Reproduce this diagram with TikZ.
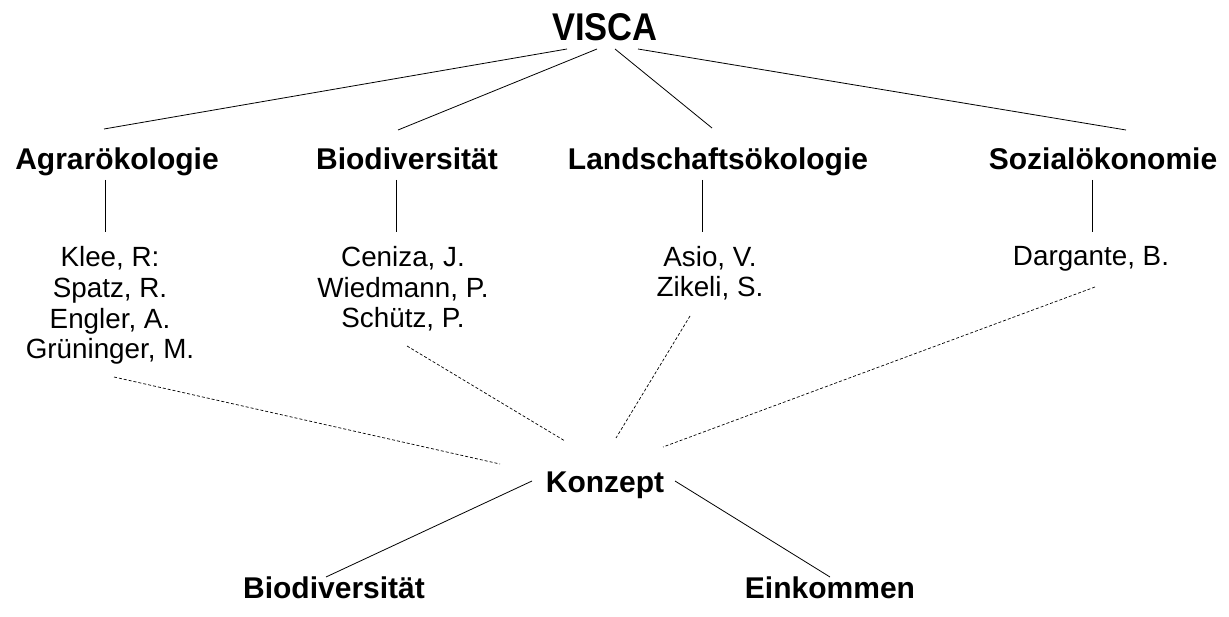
\documentclass[tikz,border=0pt]{standalone}
\usepackage{fontspec}
\setmainfont{Liberation Sans}
\begin{document}
\begin{tikzpicture}[x=1pt,y=-1pt,
  top/.style={font=\bfseries\fontsize{34.5}{40}\selectfont, anchor=base, inner sep=0pt},
  lbl/.style={font=\bfseries\fontsize{30}{32}\selectfont, anchor=base, inner sep=0pt},
  nm/.style={font=\fontsize{27.8}{30.8}\selectfont, anchor=base, inner sep=0pt, align=center},
  ln/.style={line width=0.8pt, black},
  dl/.style={line width=0.7pt, black, dash pattern=on 3pt off 2pt}]
\useasboundingbox (0,0) rectangle (1229,617);
% nodes
\node[top] (visca) at (605,41) {\scalebox{1}[1.12]{VISCA}};
\node[lbl] (agrar) at (117,170) {Agrarökologie};
\node[lbl] (bio) at (407,170) {Biodiversität};
\node[lbl] (land) at (718,170) {Landschaftsökologie};
\node[lbl] (sozial) at (1103,170) {Sozialökonomie};
\node[nm] (nagrar) at (110,359) {Klee, R:\\Spatz, R.\\Engler, A.\\Grüninger, M.};
\node[nm] (nbio) at (403,328) {Ceniza, J.\\Wiedmann, P.\\Schütz, P.};
\node[nm] (nland) at (710,297) {Asio, V.\\Zikeli, S.};
\node[nm] (nsozial) at (1091,266) {Dargante, B.};
\node[lbl] (konzept) at (605,492) {Konzept};
\node[lbl] (bbio) at (334,598) {Biodiversität};
\node[lbl] (eink) at (830,598) {Einkommen};
% connector ends
\coordinate (v1) at (567,49);  \coordinate (a1) at (104,129);
\coordinate (v2) at (597,49);  \coordinate (b1) at (398,130);
\coordinate (v3) at (615,49);  \coordinate (l1) at (712,128);
\coordinate (v4) at (638,49);  \coordinate (s1) at (1126,130);
\coordinate (a2) at (105,180); \coordinate (a3) at (105,232);
\coordinate (b2) at (396,180); \coordinate (b3) at (396,232);
\coordinate (l2) at (702,180); \coordinate (l3) at (702,232);
\coordinate (s2) at (1092,180); \coordinate (s3) at (1092,232);
\coordinate (a4) at (114,377); \coordinate (k1) at (500,464);
\coordinate (b4) at (407,346); \coordinate (k2) at (565,441);
\coordinate (l4) at (690,316); \coordinate (k3) at (616,438);
\coordinate (s4) at (1095,287); \coordinate (k4) at (663,447);
\coordinate (k5) at (532,481); \coordinate (bb1) at (326,577);
\coordinate (k6) at (675,481); \coordinate (e1) at (830,577);
% connectors
\draw[ln] (v1) -- (a1);
\draw[ln] (v2) -- (b1);
\draw[ln] (v3) -- (l1);
\draw[ln] (v4) -- (s1);
\draw[ln] (a2) -- (a3);
\draw[ln] (b2) -- (b3);
\draw[ln] (l2) -- (l3);
\draw[ln] (s2) -- (s3);
\draw[dl] (a4) -- (k1);
\draw[dl] (b4) -- (k2);
\draw[dl] (l4) -- (k3);
\draw[dl] (s4) -- (k4);
\draw[ln] (k5) -- (bb1);
\draw[ln] (k6) -- (e1);
\end{tikzpicture}
\end{document}
